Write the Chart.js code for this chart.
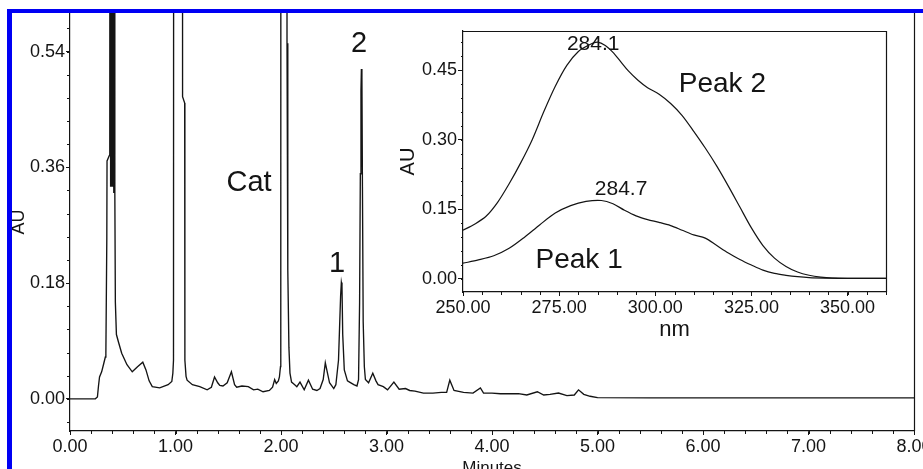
<!DOCTYPE html>
<html><head><meta charset="utf-8">
<script src="https://cdn.jsdelivr.net/npm/chart.js@4/dist/chart.umd.min.js"></script>
<style>
html,body{margin:0;padding:0;background:#fff;}
#wrap{position:relative;width:923px;height:469px;overflow:hidden;background:#fff;}
canvas{position:absolute;left:0;top:0;}
.blue{position:absolute;background:#0000f4;}
</style></head><body>
<div id="wrap">
<canvas id="main" width="923" height="469"></canvas>
<canvas id="inset" width="923" height="469"></canvas>
<div class="blue" style="left:7px;top:9px;width:916px;height:4px"></div>
<div class="blue" style="left:7px;top:9px;width:5px;height:460px"></div>
</div>
<script>
// ---------- chromatogram (main) ----------
const minutes = [0.00,0.24,0.26,0.27,0.28,0.30,0.32,0.335,0.340,0.349,0.351,0.377,0.380,0.385,0.390,0.395,0.400,0.405,0.410,0.415,0.420,0.425,0.430,0.440,
0.46,0.49,0.54,0.59,0.64,0.69,0.72,0.75,0.78,0.85,0.93,0.965,0.975,0.981,0.990,1.060,1.067,1.087,1.089,
1.10,1.11,1.16,1.23,1.30,1.34,1.37,1.40,1.42,1.45,1.49,1.53,1.56,1.58,1.63,1.69,1.74,1.78,1.83,1.89,1.92,1.94,1.955,1.975,1.985,
1.995,1.998,2.003,2.050,2.057,2.063,2.066,2.075,2.085,2.10,2.13,2.15,2.18,2.22,2.26,2.30,2.34,2.37,2.40,2.42,2.46,2.50,2.52,
2.545,2.555,2.565,2.572,2.578,2.585,2.60,2.63,2.65,2.69,2.72,2.735,2.745,2.752,2.758,2.762,2.767,2.772,2.779,2.79,2.80,2.83,2.87,2.90,2.92,2.97,
3.01,3.07,3.12,3.18,3.22,3.27,3.35,3.44,3.52,3.57,3.60,3.64,3.73,3.82,3.89,3.92,4.00,4.08,4.16,4.25,4.33,4.43,4.49,4.55,4.63,4.71,4.78,4.82,4.87,4.93,5.00,5.50,8.00];
const absorbance = [0.000,0.000,0.003,0.020,0.034,0.042,0.055,0.065,0.07,0.25,0.37,0.38,1.50,0.33,1.50,0.33,1.50,0.33,1.50,0.32,1.50,0.32,0.15,0.10,
0.088,0.071,0.053,0.042,0.050,0.057,0.045,0.028,0.019,0.017,0.022,0.027,0.040,0.06,5.0,5.0,0.47,0.46,0.06,
0.035,0.029,0.022,0.019,0.014,0.018,0.034,0.025,0.021,0.020,0.025,0.042,0.022,0.018,0.020,0.019,0.014,0.015,0.011,0.013,0.018,0.030,0.024,0.028,0.034,
0.05,0.20,5.0,5.0,0.553,0.55,0.20,0.08,0.04,0.026,0.022,0.019,0.026,0.014,0.029,0.015,0.013,0.016,0.030,0.056,0.025,0.016,0.022,
0.06,0.11,0.16,0.181,0.175,0.10,0.045,0.028,0.026,0.022,0.020,0.03,0.15,0.35,0.480,0.513,0.50,0.33,0.12,0.05,0.03,0.025,0.040,0.028,0.022,0.019,
0.014,0.026,0.015,0.016,0.013,0.012,0.009,0.009,0.010,0.010,0.029,0.013,0.010,0.009,0.017,0.009,0.009,0.008,0.008,0.008,0.006,0.011,0.006,0.007,0.009,0.005,0.006,0.014,0.007,0.004,0.002,0.0015,0.0015];
const minuteTicks = [0,1,2,3,4,5,6,7,8];
const auTicks = [0,0.18,0.36,0.54];
const mainLabelText = ['Cat','1','2'];
const mainLabelX = [1.697,2.531,2.739];
const mainLabelY = [0.3395,0.2139,0.555];

// ---------- UV spectra (inset) ----------
const peak2Nm = [250,253,256,259,262,265,268,271,274,277,280,283,285,287,289,291,293,295.5,298,301,304,307,310,313,316,319,322,325,328,331,334,337,340,343,346,350,360];
const peak2Au = [0.105,0.118,0.135,0.165,0.205,0.250,0.300,0.360,0.415,0.460,0.490,0.505,0.510,0.503,0.488,0.468,0.448,0.428,0.412,0.398,0.378,0.352,0.318,0.282,0.243,0.200,0.155,0.110,0.072,0.045,0.027,0.015,0.008,0.004,0.002,0.0015,0.0015];
const peak1Nm = [250,254,258,262,266,270,274,278,282,286,289,292,295,298,301,304,307,310,313,316,319,322,325,328,331,334,337,340,344,350,360];
const peak1Au = [0.034,0.041,0.050,0.066,0.090,0.117,0.142,0.158,0.167,0.169,0.162,0.148,0.136,0.128,0.122,0.115,0.105,0.095,0.088,0.072,0.056,0.042,0.030,0.019,0.012,0.008,0.005,0.003,0.002,0.0015,0.0015];
const nmTicks = [250,275,300,325,350];
const insetAuTicks = [0,0.15,0.30,0.45];
const insetLabelText = ['284.1','284.7','Peak 2','Peak 1'];
const insetLabelX = [283.85,291.1,317.45,280.2];
const insetLabelY = [0.510,0.198,0.424,0.045];

const FONT = '"Liberation Sans", Arial, Helvetica, sans-serif';
const INK = '#141414';

const decor = {
  id: 'decor',
  afterDraw(chart, args, o) {
    const ctx = chart.ctx, a = chart.chartArea, xs = chart.scales.x, ys = chart.scales.y;
    ctx.save();
    ctx.strokeStyle = INK; ctx.lineWidth = 1.2;
    ctx.beginPath();
    const R = Math.round(a.right) + 0.5, T = Math.round(a.top) + 0.5;
    if (o.top) { ctx.moveTo(a.left, T); ctx.lineTo(R, T); }
    ctx.moveTo(R, a.top); ctx.lineTo(R, a.bottom);
    ctx.stroke();
    ctx.lineWidth = 1;
    ctx.beginPath();
    let k0 = Math.ceil(xs.min / o.xStep - 1e-9), k1 = Math.floor(xs.max / o.xStep + 1e-9);
    for (let k = k0; k <= k1; k++) {
      const px = Math.round(xs.getPixelForValue(k * o.xStep)) + 0.5;
      ctx.moveTo(px, a.bottom); ctx.lineTo(px, a.bottom + o.xLen);
    }
    k0 = Math.ceil(ys.min / o.yStep - 1e-9); k1 = Math.floor(ys.max / o.yStep + 1e-9);
    for (let k = k0; k <= k1; k++) {
      const py = Math.round(ys.getPixelForValue(k * o.yStep)) + 0.5;
      ctx.moveTo(a.left, py); ctx.lineTo(a.left - o.yLen, py);
    }
    ctx.stroke();
    ctx.fillStyle = INK; ctx.textAlign = 'center'; ctx.textBaseline = 'alphabetic';
    o.texts.forEach((t, i) => {
      const size = o.sizes[i];
      ctx.font = size + 'px ' + FONT;
      ctx.fillText(t, xs.getPixelForValue(o.xs[i]), ys.getPixelForValue(o.ys[i]) + 0.358 * size);
    });
    ctx.restore();
  }
};

function fixBox(w, h) {
  return (s) => {
    if (w !== null) s.width = w;
    if (h !== null) s.height = h;
    s.paddingLeft = 0; s.paddingRight = 0; s.paddingTop = 0; s.paddingBottom = 0;
  };
}

const mainChart = new Chart(document.getElementById('main'), {
  type: 'line',
  data: { datasets: [{
    data: minutes.map((m, i) => ({x: m, y: absorbance[i]})),
    borderColor: INK, borderWidth: 1.35, pointRadius: 0, tension: 0, fill: false
  }]},
  options: {
    responsive: false, animation: false, events: [],
    layout: { autoPadding: false, padding: {left: 0, top: 13, right: 9, bottom: 0} },
    plugins: { legend: {display: false}, tooltip: {enabled: false},
      decor: { top: false, xStep: 0.2, xLen: 3, yStep: 0.036, yLen: 3,
        texts: mainLabelText, xs: mainLabelX, ys: mainLabelY, sizes: [29, 29, 29] } },
    scales: {
      x: { type: 'linear', min: 0, max: 8,
        afterBuildTicks: s => { s.ticks = minuteTicks.map(v => ({value: v})); },
        afterFit: fixBox(null, 38),
        ticks: { callback: v => Number(v).toFixed(2), padding: 1, maxRotation: 0, autoSkip: false,
          color: INK, font: {family: FONT, size: 18} },
        grid: { drawOnChartArea: false, drawTicks: true, tickLength: 4, color: INK },
        border: { display: true, color: INK, width: 1.2 },
        title: { display: true, text: 'Minutes', color: INK, font: {family: FONT, size: 17}, padding: {top: 0, bottom: -10} }
      },
      y: { type: 'linear', min: -0.05, max: 0.6,
        afterBuildTicks: s => { s.ticks = auTicks.map(v => ({value: v})); },
        afterFit: fixBox(70, null),
        ticks: { callback: v => Number(v).toFixed(2), padding: 1, autoSkip: false,
          color: INK, font: {family: FONT, size: 18} },
        grid: { drawOnChartArea: false, drawTicks: true, tickLength: 4, color: INK },
        border: { display: true, color: INK, width: 1.2 },
        title: { display: true, text: 'AU', color: INK, font: {family: FONT, size: 18}, padding: {top: 8, bottom: 0} }
      }
    }
  },
  plugins: [decor]
});

const insetChart = new Chart(document.getElementById('inset'), {
  type: 'line',
  data: { datasets: [
    { data: peak2Nm.map((n, i) => ({x: n, y: peak2Au[i]})), borderColor: INK, borderWidth: 1.2, pointRadius: 0, tension: 0.3, fill: false },
    { data: peak1Nm.map((n, i) => ({x: n, y: peak1Au[i]})), borderColor: INK, borderWidth: 1.2, pointRadius: 0, tension: 0.3, fill: false }
  ]},
  options: {
    responsive: false, animation: false, events: [],
    layout: { autoPadding: false, padding: {left: 380, top: 31, right: 37, bottom: 127} },
    plugins: { legend: {display: false}, tooltip: {enabled: false},
      decor: { top: true, xStep: 5, xLen: 3, yStep: 0.03, yLen: 2,
        texts: insetLabelText, xs: insetLabelX, ys: insetLabelY, sizes: [21, 21, 28, 28] } },
    scales: {
      x: { type: 'linear', min: 250, max: 360,
        afterBuildTicks: s => { s.ticks = nmTicks.map(v => ({value: v})); },
        afterFit: fixBox(null, 50),
        ticks: { callback: v => Number(v).toFixed(2), padding: 1, maxRotation: 0, autoSkip: false,
          color: INK, font: {family: FONT, size: 18} },
        grid: { drawOnChartArea: false, drawTicks: true, tickLength: 4, color: INK },
        border: { display: true, color: INK, width: 1.2 },
        title: { display: true, text: 'nm', color: INK, font: {family: FONT, size: 22}, padding: {top: 0, bottom: -1} }
      },
      y: { type: 'linear', min: -0.028, max: 0.534,
        afterBuildTicks: s => { s.ticks = insetAuTicks.map(v => ({value: v})); },
        afterFit: fixBox(83, null),
        ticks: { callback: v => Number(v).toFixed(2), padding: 1, autoSkip: false,
          color: INK, font: {family: FONT, size: 18} },
        grid: { drawOnChartArea: false, drawTicks: true, tickLength: 5, color: INK },
        border: { display: true, color: INK, width: 1.2 },
        title: { display: true, text: 'AU', color: INK, font: {family: FONT, size: 20}, padding: {top: 16, bottom: 0} }
      }
    }
  },
  plugins: [decor]
});
</script>
</body></html>
